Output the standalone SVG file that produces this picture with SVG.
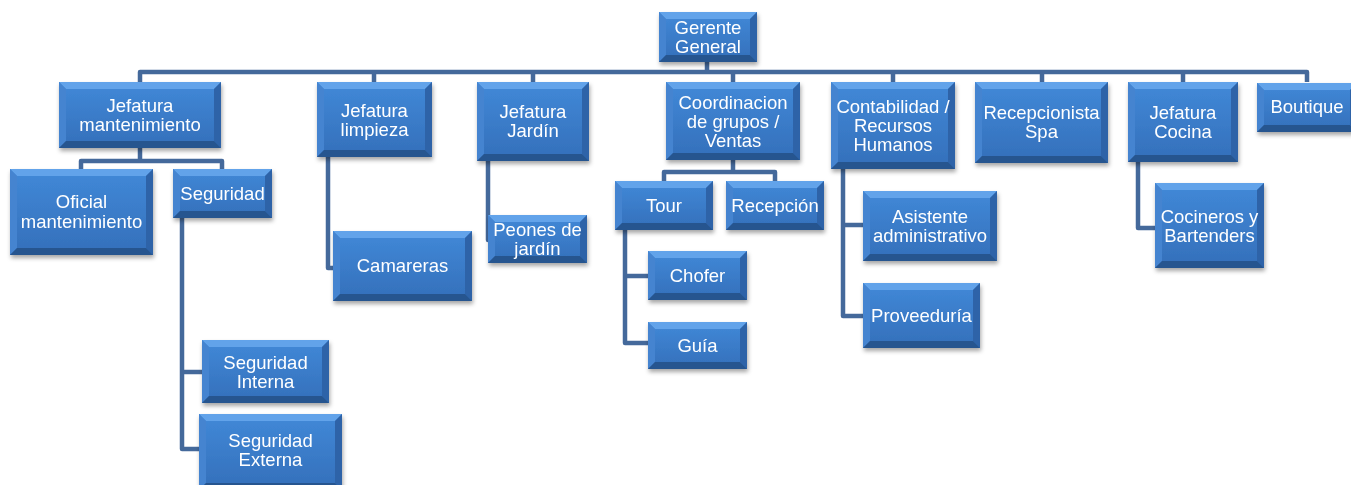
<svg xmlns="http://www.w3.org/2000/svg" width="1351" height="485" viewBox="0 0 1351 485">
<defs>
<linearGradient id="face" x1="0" y1="0" x2="0" y2="1">
<stop offset="0" stop-color="#4189d8"/>
<stop offset="1" stop-color="#346fba"/>
</linearGradient>
<filter id="sh" x="-10%" y="-10%" width="125%" height="135%">
<feDropShadow dx="1" dy="3" stdDeviation="2" flood-color="#000" flood-opacity="0.35"/>
</filter>
</defs>
<style>
.n{filter:url(#sh)}
.f{fill:url(#face)}
.bt{fill:#62a3ea}
.bl{fill:#4584d0}
.br{fill:#2f64a8}
.bb{fill:#28558f}
.t{font-family:"Liberation Sans",Arial,sans-serif;font-size:18.5px;fill:#fff;text-anchor:middle}
.c{fill:none;stroke:#44699b;stroke-width:4.5;stroke-linejoin:round}
</style>
<rect width="1351" height="485" fill="#fff"/>
<g id="connectors">
<path class="c" d="M140 82 V72 H1307 V82"/>
<path class="c" d="M707 62 V72 M374 72 V82 M533 72 V82 M733 72 V82 M893 72 V82 M1042 72 V82 M1183 72 V82"/>
<path class="c" d="M140 148 V161 M81 169 V161 H222 V169"/>
<path class="c" d="M328 157 V268 H333"/>
<path class="c" d="M488 161 V240 H490"/>
<path class="c" d="M733 160 V172 M664 181 V172 H775 V181"/>
<path class="c" d="M625 230 V343 H648 M625 276 H648"/>
<path class="c" d="M843 169 V316 H863 M843 225 H863"/>
<path class="c" d="M182 218 V449 H199 M182 372 H202"/>
<path class="c" d="M1138 162 V228 H1155"/>
</g>
<g id="gerente" class="n" transform="translate(659,12)">
<rect class="f" width="98" height="50"/>
<path class="bt" d="M0 0h98l-7 7h-84z"/><path class="bl" d="M0 0l7 7v36l-7 7z"/><path class="br" d="M98 0v50l-7-7v-36z"/><path class="bb" d="M0 50h98l-7-7h-84z"/>
<text class="t" x="49" y="22">Gerente</text><text class="t" x="49" y="41">General</text>
</g>
<g id="jmant" class="n" transform="translate(59,82)">
<rect class="f" width="162" height="66"/>
<path class="bt" d="M0 0h162l-7 7h-148z"/><path class="bl" d="M0 0l7 7v52l-7 7z"/><path class="br" d="M162 0v66l-7-7v-52z"/><path class="bb" d="M0 66h162l-7-7h-148z"/>
<text class="t" x="81" y="30">Jefatura</text><text class="t" x="81" y="49">mantenimiento</text>
</g>
<g id="jlimp" class="n" transform="translate(317,82)">
<rect class="f" width="115" height="75"/>
<path class="bt" d="M0 0h115l-7 7h-101z"/><path class="bl" d="M0 0l7 7v61l-7 7z"/><path class="br" d="M115 0v75l-7-7v-61z"/><path class="bb" d="M0 75h115l-7-7h-101z"/>
<text class="t" x="57.5" y="35">Jefatura</text><text class="t" x="57.5" y="54">limpieza</text>
</g>
<g id="jjard" class="n" transform="translate(477,82)">
<rect class="f" width="112" height="79"/>
<path class="bt" d="M0 0h112l-7 7h-98z"/><path class="bl" d="M0 0l7 7v65l-7 7z"/><path class="br" d="M112 0v79l-7-7v-65z"/><path class="bb" d="M0 79h112l-7-7h-98z"/>
<text class="t" x="56" y="36">Jefatura</text><text class="t" x="56" y="55">Jardín</text>
</g>
<g id="coord" class="n" transform="translate(666,82)">
<rect class="f" width="134" height="78"/>
<path class="bt" d="M0 0h134l-7 7h-120z"/><path class="bl" d="M0 0l7 7v64l-7 7z"/><path class="br" d="M134 0v78l-7-7v-64z"/><path class="bb" d="M0 78h134l-7-7h-120z"/>
<text class="t" x="67" y="27">Coordinacion</text><text class="t" x="67" y="46">de grupos /</text><text class="t" x="67" y="65">Ventas</text>
</g>
<g id="conta" class="n" transform="translate(831,82)">
<rect class="f" width="124" height="87"/>
<path class="bt" d="M0 0h124l-7 7h-110z"/><path class="bl" d="M0 0l7 7v73l-7 7z"/><path class="br" d="M124 0v87l-7-7v-73z"/><path class="bb" d="M0 87h124l-7-7h-110z"/>
<text class="t" x="62" y="31">Contabilidad /</text><text class="t" x="62" y="50">Recursos</text><text class="t" x="62" y="69">Humanos</text>
</g>
<g id="recepspa" class="n" transform="translate(975,82)">
<rect class="f" width="133" height="81"/>
<path class="bt" d="M0 0h133l-7 7h-119z"/><path class="bl" d="M0 0l7 7v67l-7 7z"/><path class="br" d="M133 0v81l-7-7v-67z"/><path class="bb" d="M0 81h133l-7-7h-119z"/>
<text class="t" x="66.5" y="37">Recepcionista</text><text class="t" x="66.5" y="56">Spa</text>
</g>
<g id="jcocina" class="n" transform="translate(1128,82)">
<rect class="f" width="110" height="80"/>
<path class="bt" d="M0 0h110l-7 7h-96z"/><path class="bl" d="M0 0l7 7v66l-7 7z"/><path class="br" d="M110 0v80l-7-7v-66z"/><path class="bb" d="M0 80h110l-7-7h-96z"/>
<text class="t" x="55" y="37">Jefatura</text><text class="t" x="55" y="56">Cocina</text>
</g>
<g id="boutique" class="n" transform="translate(1257,83)">
<rect class="f" width="100" height="49"/>
<path class="bt" d="M0 0h100l-7 7h-86z"/><path class="bl" d="M0 0l7 7v35l-7 7z"/><path class="br" d="M100 0v49l-7-7v-35z"/><path class="bb" d="M0 49h100l-7-7h-86z"/>
<text class="t" x="50" y="30">Boutique</text>
</g>
<g id="oficial" class="n" transform="translate(10,169)">
<rect class="f" width="143" height="86"/>
<path class="bt" d="M0 0h143l-7 7h-129z"/><path class="bl" d="M0 0l7 7v72l-7 7z"/><path class="br" d="M143 0v86l-7-7v-72z"/><path class="bb" d="M0 86h143l-7-7h-129z"/>
<text class="t" x="71.5" y="39">Oficial</text><text class="t" x="71.5" y="58.5">mantenimiento</text>
</g>
<g id="seguridad" class="n" transform="translate(173,169)">
<rect class="f" width="99" height="49"/>
<path class="bt" d="M0 0h99l-7 7h-85z"/><path class="bl" d="M0 0l7 7v35l-7 7z"/><path class="br" d="M99 0v49l-7-7v-35z"/><path class="bb" d="M0 49h99l-7-7h-85z"/>
<text class="t" x="49.5" y="31">Seguridad</text>
</g>
<g id="camareras" class="n" transform="translate(333,231)">
<rect class="f" width="139" height="70"/>
<path class="bt" d="M0 0h139l-7 7h-125z"/><path class="bl" d="M0 0l7 7v56l-7 7z"/><path class="br" d="M139 0v70l-7-7v-56z"/><path class="bb" d="M0 70h139l-7-7h-125z"/>
<text class="t" x="69.5" y="41">Camareras</text>
</g>
<g id="peones" class="n" transform="translate(488,215)">
<rect class="f" width="99" height="48"/>
<path class="bt" d="M0 0h99l-7 7h-85z"/><path class="bl" d="M0 0l7 7v34l-7 7z"/><path class="br" d="M99 0v48l-7-7v-34z"/><path class="bb" d="M0 48h99l-7-7h-85z"/>
<text class="t" x="49.5" y="21">Peones de</text><text class="t" x="49.5" y="40">jardín</text>
</g>
<g id="tour" class="n" transform="translate(615,181)">
<rect class="f" width="98" height="49"/>
<path class="bt" d="M0 0h98l-7 7h-84z"/><path class="bl" d="M0 0l7 7v35l-7 7z"/><path class="br" d="M98 0v49l-7-7v-35z"/><path class="bb" d="M0 49h98l-7-7h-84z"/>
<text class="t" x="49" y="31">Tour</text>
</g>
<g id="recepcion" class="n" transform="translate(726,181)">
<rect class="f" width="98" height="49"/>
<path class="bt" d="M0 0h98l-7 7h-84z"/><path class="bl" d="M0 0l7 7v35l-7 7z"/><path class="br" d="M98 0v49l-7-7v-35z"/><path class="bb" d="M0 49h98l-7-7h-84z"/>
<text class="t" x="49" y="31">Recepción</text>
</g>
<g id="chofer" class="n" transform="translate(648,251)">
<rect class="f" width="99" height="49"/>
<path class="bt" d="M0 0h99l-7 7h-85z"/><path class="bl" d="M0 0l7 7v35l-7 7z"/><path class="br" d="M99 0v49l-7-7v-35z"/><path class="bb" d="M0 49h99l-7-7h-85z"/>
<text class="t" x="49.5" y="31">Chofer</text>
</g>
<g id="guia" class="n" transform="translate(648,322)">
<rect class="f" width="99" height="47"/>
<path class="bt" d="M0 0h99l-7 7h-85z"/><path class="bl" d="M0 0l7 7v33l-7 7z"/><path class="br" d="M99 0v47l-7-7v-33z"/><path class="bb" d="M0 47h99l-7-7h-85z"/>
<text class="t" x="49.5" y="30">Guía</text>
</g>
<g id="asistente" class="n" transform="translate(863,191)">
<rect class="f" width="134" height="70"/>
<path class="bt" d="M0 0h134l-7 7h-120z"/><path class="bl" d="M0 0l7 7v56l-7 7z"/><path class="br" d="M134 0v70l-7-7v-56z"/><path class="bb" d="M0 70h134l-7-7h-120z"/>
<text class="t" x="67" y="32">Asistente</text><text class="t" x="67" y="51">administrativo</text>
</g>
<g id="proveeduria" class="n" transform="translate(863,283)">
<rect class="f" width="117" height="65"/>
<path class="bt" d="M0 0h117l-7 7h-103z"/><path class="bl" d="M0 0l7 7v51l-7 7z"/><path class="br" d="M117 0v65l-7-7v-51z"/><path class="bb" d="M0 65h117l-7-7h-103z"/>
<text class="t" x="58.5" y="39">Proveeduría</text>
</g>
<g id="seginterna" class="n" transform="translate(202,340)">
<rect class="f" width="127" height="63"/>
<path class="bt" d="M0 0h127l-7 7h-113z"/><path class="bl" d="M0 0l7 7v49l-7 7z"/><path class="br" d="M127 0v63l-7-7v-49z"/><path class="bb" d="M0 63h127l-7-7h-113z"/>
<text class="t" x="63.5" y="29">Seguridad</text><text class="t" x="63.5" y="48">Interna</text>
</g>
<g id="segexterna" class="n" transform="translate(199,414)">
<rect class="f" width="143" height="76"/>
<path class="bt" d="M0 0h143l-7 7h-129z"/><path class="bl" d="M0 0l7 7v62l-7 7z"/><path class="br" d="M143 0v76l-7-7v-62z"/><path class="bb" d="M0 76h143l-7-7h-129z"/>
<text class="t" x="71.5" y="33">Seguridad</text><text class="t" x="71.5" y="52">Externa</text>
</g>
<g id="cocineros" class="n" transform="translate(1155,183)">
<rect class="f" width="109" height="85"/>
<path class="bt" d="M0 0h109l-7 7h-95z"/><path class="bl" d="M0 0l7 7v71l-7 7z"/><path class="br" d="M109 0v85l-7-7v-71z"/><path class="bb" d="M0 85h109l-7-7h-95z"/>
<text class="t" x="54.5" y="40">Cocineros y</text><text class="t" x="54.5" y="59">Bartenders</text>
</g>
</svg>
